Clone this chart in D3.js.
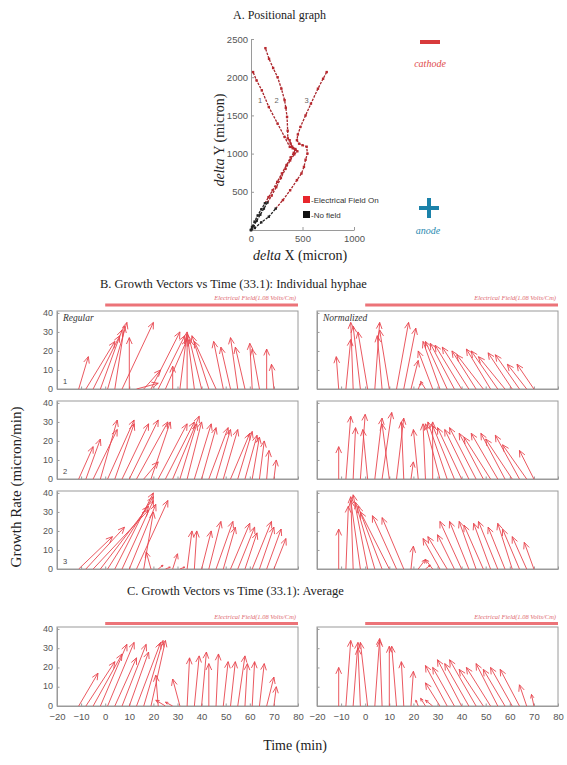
<!DOCTYPE html>
<html lang="en">
<head>
<meta charset="utf-8">
<script src="https://d3js.org/d3.v7.min.js"></script>
<style>
  body { margin: 0; background: #fff; }
  svg text { font-family: "Liberation Sans", Arial, sans-serif; }
  .serif { font-family: "Liberation Serif", "Times New Roman", serif !important; }
  .axis path, .axis line { stroke: #9a9a9a; }
  .axis text { fill: #555; }
</style>
</head>
<body>
<svg id="chart" width="567" height="765"></svg>
<script>
// ---- data ----
// A. positional graph, tracks in micron
const track1X = [0, 10, 35, 65, 100, 135, 170, 210, 255, 300, 345, 385, 415, 430, 405, 377, 326, 258, 173, 105, 54, 20];
const track1Y = [0, 40, 110, 190, 270, 350, 430, 520, 630, 740, 850, 950, 1010, 1050, 1070, 1088, 1218, 1393, 1610, 1828, 1958, 2067];
const track2X = [0, 25, 55, 90, 125, 160, 200, 245, 290, 335, 380, 420, 450, 430, 400, 385, 375, 357, 356, 350, 338, 326, 295, 258, 215, 175, 140];
const track2Y = [0, 50, 120, 200, 280, 360, 450, 560, 680, 800, 910, 990, 1030, 1060, 1090, 1130, 1175, 1200, 1300, 1480, 1600, 1700, 1850, 2000, 2120, 2240, 2380];
const track3X = [0, 37, 100, 173, 240, 310, 380, 446, 490, 514, 530, 548, 540, 500, 467, 446, 455, 480, 530, 582, 650, 700, 735];
const track3Y = [0, 26, 100, 174, 280, 392, 520, 653, 740, 826, 920, 1000, 1090, 1110, 1130, 1175, 1250, 1349, 1500, 1654, 1850, 1980, 2067];
const noFieldPoints = [6, 6, 5];
const posXTicks = [0, 500, 1000];
const posYTicks = [500, 1000, 1500, 2000, 2500];

// B / C. growth vectors: arrow bases in time (min), components u (min) and v (micron/min)
const times = [-11, -8, -5, -2, 1, 4, 7, 10, 13, 16, 19, 22, 25, 28, 31, 34, 37, 40, 43, 46, 49, 52, 55, 58, 61, 64, 67, 70];

const reg1U = [4, 12, 11, 9, 8, 4, 13, 0, 9, 7, 12, 11, 9, 0, 3, 0, -3, -5, -7, -9, -4, -4, -3, -4, -1, -3, 0, -1];
const reg1V = [17, 25, 28, 31, 35, 33, 35, 27, 3, 10, 30, 28, 26, 12, 30, 27, 29, 26, 28, 25, 25, 22, 27, 22, 24, 21, 21, 13];
const norm1U = [-1, 2, -1, -3, -4, 2, -2, -4, 5, 5, 3, 1, -2, -6, -7, -9, -10, -11, -11, -10, -11, -10, -11, -11, -10, -10, -8, -7];
const norm1V = [17, 26, 35, 33, 30, 35, 28, 31, 35, 32, 15, 3, 4, 20, 25, 25, 24, 23, 22, 20, 18, 21, 20, 17, 19, 18, 13, 13];

const reg2U = [6, 6, 10, 7, 11, 8, 11, 12, 13, 6, 8, 12, 12, 11, 7, 6, 7, 6, 8, 6, 6, 8, 6, 5, 3, 2, 1, 1];
const reg2V = [17, 21, 26, 31, 31, 29, 29, 31, 30, 9, 30, 29, 30, 33, 29, 30, 29, 27, 27, 26, 26, 24, 25, 23, 22, 20, 15, 10];
const norm2U = [0, 2, 1, 2, -2, 3, 4, -3, 3, -1, 1, -2, -1, 0, -6, -8, -9, -10, -10, -11, -10, -11, -11, -10, -11, -10, -10, -6];
const norm2V = [17, 33, 27, 34, 26, 32, 35, 29, 32, 30, 9, 26, 29, 30, 29, 30, 28, 27, 26, 27, 24, 22, 24, 24, 21, 23, 18, 15];

const reg3U = [14, 16, 23, 20, 19, 16, 13, 11, 13, 4, -2, 2, 2, 2, 2, 2, 1, 4, 5, 7, 5, 8, 7, 5, 8, 6, 6, 5];
const reg3V = [17, 22, 31, 33, 38, 40, 36, 34, 36, 30, 9, 2, 1, 8, 1, 20, 20, 20, 25, 25, 22, 24, 22, 19, 25, 22, 21, 16];
const norm3U = [0, 1, -1, -4, -6, -8, -10, -12, -10, -9, 1, 3, 2, -3, -7, -8, -7, -9, -8, -7, -8, -7, -8, -7, -6, -7, -6, -4];
const norm3V = [21, 33, 38, 36, 39, 35, 33, 30, 28, 27, 12, 5, 2, 5, 16, 17, 18, 25, 25, 25, 23, 24, 25, 22, 24, 21, 17, 14];

const avgRegU = [8, 12, 12, 11, 11, 9, 10, 8, 10, 8, 6, -1, -4, -3, -3, 1, 2, 2, 0, 1, 2, 2, 3, 1, 1, 2, 3, 1];
const avgRegV = [17, 23, 27, 32, 33, 25, 32, 28, 33, 34, 34, 16, 3, 2, 14, 25, 26, 28, 22, 27, 23, 23, 26, 22, 23, 22, 15, 10];
const avgNormU = [0, 2, 2, -1, -3, 2, -1, 0, -2, -1, 1, -1, -2, -3, -6, -9, -9, -10, -10, -11, -10, -10, -9, -9, -9, -8, -3, -1];
const avgNormV = [20, 34, 33, 30, 33, 35, 34, 31, 31, 23, 18, 3, 4, 3, 12, 21, 20, 24, 22, 24, 19, 20, 22, 19, 20, 19, 11, 6];

const yTicks = [0, 10, 20, 30, 40];
const xTicks = [-20, -10, 0, 10, 20, 30, 40, 50, 60, 70, 80];
const fieldStart = 0;

const svg = d3.select('#chart');

// ---------- titles ----------
svg.append('text').attr('class', 'serif').attr('x', 233).attr('y', 19)
  .attr('font-size', 12).attr('fill', '#222').text('A. Positional graph');
svg.append('text').attr('class', 'serif').attr('x', 100).attr('y', 288)
  .attr('font-size', 12.5).attr('fill', '#222').text('B. Growth Vectors vs Time (33.1): Individual hyphae');
svg.append('text').attr('class', 'serif').attr('x', 127).attr('y', 595)
  .attr('font-size', 12.5).attr('fill', '#222').text('C. Growth Vectors vs Time (33.1): Average');
svg.append('text').attr('class', 'serif').attr('x', 295).attr('y', 750)
  .attr('text-anchor', 'middle').attr('font-size', 14).attr('fill', '#222').text('Time (min)');
svg.append('text').attr('class', 'serif')
  .attr('transform', 'translate(21,487) rotate(-90)')
  .attr('text-anchor', 'middle').attr('font-size', 15).attr('fill', '#222').text('Growth Rate (micron/min)');

// ---------- A. positional graph ----------
const px = d3.scaleLinear().domain([0, 1000]).range([251, 354]);
const py = d3.scaleLinear().domain([0, 2500]).range([230, 39]);

svg.append('g').attr('class', 'axis').attr('transform', 'translate(0,230)')
  .call(d3.axisBottom(px).tickValues(posXTicks).tickFormat(d3.format('d'))
    .tickSizeInner(-3).tickSizeOuter(0).tickPadding(5))
  .selectAll('text').attr('font-size', 9.5);
svg.append('g').attr('class', 'axis').attr('transform', 'translate(251,0)')
  .call(d3.axisLeft(py).tickValues(posYTicks).tickFormat(d3.format('d'))
    .tickSizeInner(-3).tickSizeOuter(0).tickPadding(3))
  .selectAll('text').attr('font-size', 9.5);

const tracks = [[track1X, track1Y], [track2X, track2Y], [track3X, track3Y]];
const line = d3.line().x(d => px(d[0])).y(d => py(d[1]));
tracks.forEach((tr, k) => {
  const pts = tr[0].map((x, i) => [x, tr[1][i]]);
  const nf = noFieldPoints[k];
  svg.append('path').attr('d', line(pts.slice(nf - 1)))
    .attr('fill', 'none').attr('stroke', '#a8262c').attr('stroke-width', 1.3)
    .attr('stroke-dasharray', '2.5,1.2');
  svg.append('path').attr('d', line(pts.slice(0, nf)))
    .attr('fill', 'none').attr('stroke', '#222').attr('stroke-width', 1.3)
    .attr('stroke-dasharray', '2.5,1.2');
  svg.append('g').selectAll('rect').data(pts).join('rect')
    .attr('x', d => px(d[0]) - 1.2).attr('y', d => py(d[1]) - 1.2)
    .attr('width', 2.4).attr('height', 2.4)
    .attr('fill', (d, i) => i < nf ? '#222' : '#b8282e');
});
[[260, '1'], [276.7, '2'], [306.7, '3']].forEach(([x, s]) => {
  svg.append('text').attr('x', x).attr('y', 103).attr('font-size', 7.5)
    .attr('fill', '#666').attr('text-anchor', 'middle').text(s);
});

// legend
svg.append('rect').attr('x', 303).attr('y', 196).attr('width', 7).attr('height', 7).attr('fill', '#e8262c');
svg.append('text').attr('x', 311).attr('y', 203).attr('font-size', 8).attr('fill', '#333').text('-Electrical Field On');
svg.append('rect').attr('x', 303).attr('y', 211).attr('width', 7).attr('height', 7).attr('fill', '#111');
svg.append('text').attr('x', 311).attr('y', 218).attr('font-size', 8).attr('fill', '#333').text('-No field');

// axis labels
const yl = svg.append('text').attr('class', 'serif')
  .attr('transform', 'translate(224,140) rotate(-90)')
  .attr('text-anchor', 'middle').attr('font-size', 14).attr('fill', '#222');
yl.append('tspan').attr('font-style', 'italic').text('delta');
yl.append('tspan').text(' Y (micron)');
const xl = svg.append('text').attr('class', 'serif')
  .attr('x', 300).attr('y', 260)
  .attr('text-anchor', 'middle').attr('font-size', 14).attr('fill', '#222');
xl.append('tspan').attr('font-style', 'italic').text('delta');
xl.append('tspan').text(' X (micron)');

// cathode / anode
svg.append('line').attr('x1', 420).attr('x2', 440).attr('y1', 42).attr('y2', 42)
  .attr('stroke', '#d83a3c').attr('stroke-width', 4);
svg.append('text').attr('class', 'serif').attr('x', 430).attr('y', 67)
  .attr('text-anchor', 'middle').attr('font-size', 10).attr('font-style', 'italic')
  .attr('fill', '#e04a4a').text('cathode');
svg.append('line').attr('x1', 419).attr('x2', 439).attr('y1', 208).attr('y2', 208)
  .attr('stroke', '#1b82aa').attr('stroke-width', 4);
svg.append('line').attr('x1', 429).attr('x2', 429).attr('y1', 198).attr('y2', 218)
  .attr('stroke', '#1b82aa').attr('stroke-width', 4);
svg.append('text').attr('class', 'serif').attr('x', 428).attr('y', 234)
  .attr('text-anchor', 'middle').attr('font-size', 10).attr('font-style', 'italic')
  .attr('fill', '#2a8ab0').text('anode');

// ---------- B / C. growth vector panels ----------
const panels = [
  { id: 'b1l', x: 57, y: 311, h: 78, u: reg1U, v: reg1V, label: 'Regular', num: '1', yLab: true, bar: 6, barText: 11 },
  { id: 'b1r', x: 317, y: 311, h: 78, u: norm1U, v: norm1V, label: 'Normalized', bar: 6, barText: 11 },
  { id: 'b2l', x: 57, y: 401, h: 78, u: reg2U, v: reg2V, num: '2', yLab: true },
  { id: 'b2r', x: 317, y: 401, h: 78, u: norm2U, v: norm2V },
  { id: 'b3l', x: 57, y: 491, h: 78, u: reg3U, v: reg3V, num: '3', yLab: true },
  { id: 'b3r', x: 317, y: 491, h: 78, u: norm3U, v: norm3V },
  { id: 'cl', x: 57, y: 627, h: 79, u: avgRegU, v: avgRegV, yLab: true, xLab: true, bar: 3.5, barText: 8 },
  { id: 'cr', x: 317, y: 627, h: 79, u: avgNormU, v: avgNormV, xLab: true, bar: 3.5, barText: 8 }
];

const arrowColor = '#e8464f';

panels.forEach(p => {
  const w = 241;
  const x = d3.scaleLinear().domain([-20, 80]).range([p.x, p.x + w]);
  const y = d3.scaleLinear().domain([0, 41]).range([p.y + p.h, p.y]);
  const g = svg.append('g');

  g.append('clipPath').attr('id', 'clip-' + p.id).append('rect')
    .attr('x', p.x).attr('y', p.y).attr('width', w).attr('height', p.h);

  const ya = g.append('g').attr('class', 'axis').attr('transform', `translate(${p.x},0)`)
    .call(d3.axisLeft(y).tickValues(yTicks).tickSizeInner(-2.5).tickSizeOuter(0).tickPadding(4));
  ya.selectAll('text').attr('font-size', 9).attr('dy', '0.25em')
    .style('display', p.yLab ? null : 'none');
  const xa = g.append('g').attr('class', 'axis').attr('transform', `translate(0,${p.y + p.h})`)
    .call(d3.axisBottom(x).tickValues(xTicks).tickSizeInner(-2.5).tickSizeOuter(0).tickPadding(7));
  xa.selectAll('text').attr('font-size', 9.5).style('display', p.xLab ? null : 'none');

  g.append('rect').attr('x', p.x).attr('y', p.y).attr('width', w).attr('height', p.h)
    .attr('fill', 'none').attr('stroke', '#9a9a9a').attr('stroke-width', 1);

  if (p.bar) {
    g.append('line').attr('x1', x(fieldStart)).attr('x2', p.x + w)
      .attr('y1', p.y - p.bar).attr('y2', p.y - p.bar)
      .attr('stroke', '#ec7378').attr('stroke-width', 3);
    g.append('text').attr('class', 'serif').attr('x', p.x + w - 2).attr('y', p.y - p.barText)
      .attr('text-anchor', 'end').attr('font-size', 6.5).attr('font-style', 'italic')
      .attr('fill', '#e06a70').text('Electrical Field(1.08 Volts/Cm)');
  }
  if (p.label) {
    g.append('text').attr('class', 'serif').attr('x', p.x + 6).attr('y', p.y + 10)
      .attr('font-size', 9.5).attr('font-style', 'italic').attr('fill', '#333').text(p.label);
  }
  if (p.num) {
    g.append('text').attr('x', p.x + 6).attr('y', p.y + p.h - 5)
      .attr('font-size', 7.5).attr('fill', '#444').text(p.num);
  }

  const arrows = times.map((t, i) => ({ t: t, u: p.u[i], v: p.v[i] }));
  g.append('g').attr('clip-path', `url(#clip-${p.id})`)
    .selectAll('path').data(arrows).join('path')
    .attr('d', d => {
      const x1 = x(d.t), y1 = y(0), x2 = x(d.t + d.u), y2 = y(d.v);
      const len = Math.hypot(x2 - x1, y2 - y1);
      const a = Math.atan2(y2 - y1, x2 - x1);
      const hl = Math.min(7, len * 0.35);
      const b = 0.42;
      const hx1 = x2 - hl * Math.cos(a - b), hy1 = y2 - hl * Math.sin(a - b);
      const hx2 = x2 - hl * Math.cos(a + b), hy2 = y2 - hl * Math.sin(a + b);
      return `M${x1},${y1}L${x2},${y2}M${hx1},${hy1}L${x2},${y2}L${hx2},${hy2}`;
    })
    .attr('fill', 'none').attr('stroke', arrowColor).attr('stroke-width', 1)
    .attr('stroke-opacity', 0.9);
});
</script>
</body>
</html>
